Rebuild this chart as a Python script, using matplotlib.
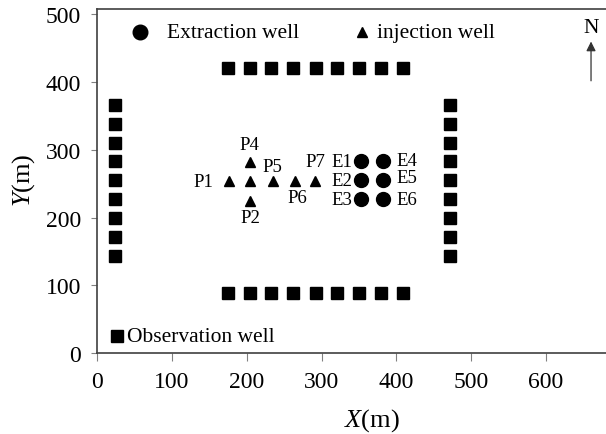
import matplotlib
matplotlib.use("Agg")
import matplotlib.pyplot as plt

plt.rcParams['font.family'] = ['Liberation Serif', 'DejaVu Serif']
plt.rcParams['mathtext.fontset'] = 'custom'
plt.rcParams['mathtext.it'] = 'Liberation Serif:italic'
plt.rcParams['mathtext.rm'] = 'Liberation Serif'

# Observation wells
obs_top_x = [175, 204, 233, 262, 292, 321, 350, 380, 409]
obs_top_y = [421] * 9
obs_bot_x = [175, 204, 233, 262, 292, 321, 350, 380, 409]
obs_bot_y = [88] * 9
obs_left_x = [24] * 9
obs_right_x = [471] * 9
obs_side_y = [366, 338, 310, 283, 255, 227, 200, 172, 144]

# Injection wells
inj_names = ['P1', 'P2', 'P3', 'P4', 'P5', 'P6', 'P7']
inj_x = [176, 205, 205, 205, 235, 264, 291]
inj_y = [254, 225, 254, 282, 254, 254, 254]

# Extraction wells
ext_names = ['E1', 'E2', 'E3', 'E4', 'E5', 'E6']
ext_x = [353, 353, 353, 382, 382, 382]
ext_y = [283, 255, 227, 283, 255, 227]

# label placement: (well list, index, label, dx pt, dy pt, ha)
labels = [
    ('inj', 0, 'P1', -11, 0, 'right'),
    ('inj', 3, 'P4', -1, 13, 'center'),
    ('inj', 1, 'P2', 0, -12, 'center'),
    ('inj', 3, 'P5', 8.5, -3.5, 'left'),
    ('inj', 5, 'P6', 2, -12, 'center'),
    ('inj', 6, 'P7', 0.5, 14, 'center'),
    ('ext', 0, 'E1', -6.5, 0, 'right'),
    ('ext', 1, 'E2', -6.5, 0, 'right'),
    ('ext', 2, 'E3', -6.5, 0, 'right'),
    ('ext', 3, 'E4', 10, 0.5, 'left'),
    ('ext', 4, 'E5', 10, 2, 'left'),
    ('ext', 5, 'E6', 9.5, 0, 'left'),
]

# Legend-like markers inside the plot
leg_obs = (27, 25, 'Observation well')
leg_ext = (57, 474, 'Extraction well')
leg_inj = (354, 474, 'injection well')
north = (660, 460, 402)

fig = plt.figure(figsize=(6.06, 4.35), dpi=100)
ax = fig.add_axes([0.160, 0.186, 0.840, 0.791])

sq = dict(marker='s', ms=9, color='black', ls='none', clip_on=False)
ax.plot(obs_top_x, obs_top_y, **sq)
ax.plot(obs_bot_x, obs_bot_y, **sq)
ax.plot(obs_left_x, obs_side_y, **sq)
ax.plot(obs_right_x, obs_side_y, **sq)
ax.plot(inj_x, inj_y, marker='^', ms=6.5, color='black', ls='none')
ax.plot(ext_x, ext_y, marker='o', ms=10, color='black', ls='none')

fs_lab = 13.5
for kind, i, txt, dx, dy, ha in labels:
    xs, ys = (inj_x, inj_y) if kind == 'inj' else (ext_x, ext_y)
    ax.annotate(txt, (xs[i], ys[i]), xytext=(dx, dy), textcoords='offset points',
                ha=ha, va='center', fontsize=fs_lab)

fs_leg = 15.5
ax.plot([leg_obs[0]], [leg_obs[1]], **sq)
ax.annotate(leg_obs[2], (leg_obs[0], leg_obs[1]), xytext=(7, 0), textcoords='offset points',
            ha='left', va='center', fontsize=fs_leg)
ax.plot([leg_ext[0]], [leg_ext[1]], marker='o', ms=10.5, color='black', ls='none')
ax.annotate(leg_ext[2], (leg_ext[0], leg_ext[1]), xytext=(20, 0), textcoords='offset points',
            ha='left', va='center', fontsize=fs_leg)
ax.plot([leg_inj[0]], [leg_inj[1]], marker='^', ms=6.5, color='black', ls='none')
ax.annotate(leg_inj[2], (leg_inj[0], leg_inj[1]), xytext=(11, 0), textcoords='offset points',
            ha='left', va='center', fontsize=fs_leg)

ax.annotate('', xy=(north[0], north[1]), xytext=(north[0], north[2]),
            arrowprops=dict(arrowstyle='-|>', color='#333333', lw=0.9, mutation_scale=14,
                            shrinkA=0, shrinkB=0))
ax.annotate('N', (north[0], north[1]), xytext=(0, 10), textcoords='offset points',
            ha='center', va='center', fontsize=fs_leg)

ax.set_xlim(0, 680)
ax.set_ylim(0, 508)
ax.set_xticks([0, 100, 200, 300, 400, 500, 600])
ax.set_yticks([0, 100, 200, 300, 400, 500])
ax.tick_params(direction='out', width=0.8, colors='#808080', labelcolor='black', labelsize=17)
ax.tick_params(axis='x', length=6, pad=7)
ax.tick_params(axis='y', length=4.5, pad=7)
for s in ['left', 'bottom', 'top']:
    ax.spines[s].set_color('#404040')
    ax.spines[s].set_linewidth(1.2)
ax.spines['right'].set_visible(False)

ax.set_xlabel(r'$\mathit{X}$(m)', fontsize=19)
ax.set_ylabel(r'$\mathit{Y}$(m)', fontsize=19)
ax.xaxis.label.set_va('center')
ax.yaxis.label.set_va('center')
ax.xaxis.set_label_coords(0.540, -0.192)
ax.yaxis.set_label_coords(-0.145, 0.506)

fig.savefig('out.png', dpi=100)
